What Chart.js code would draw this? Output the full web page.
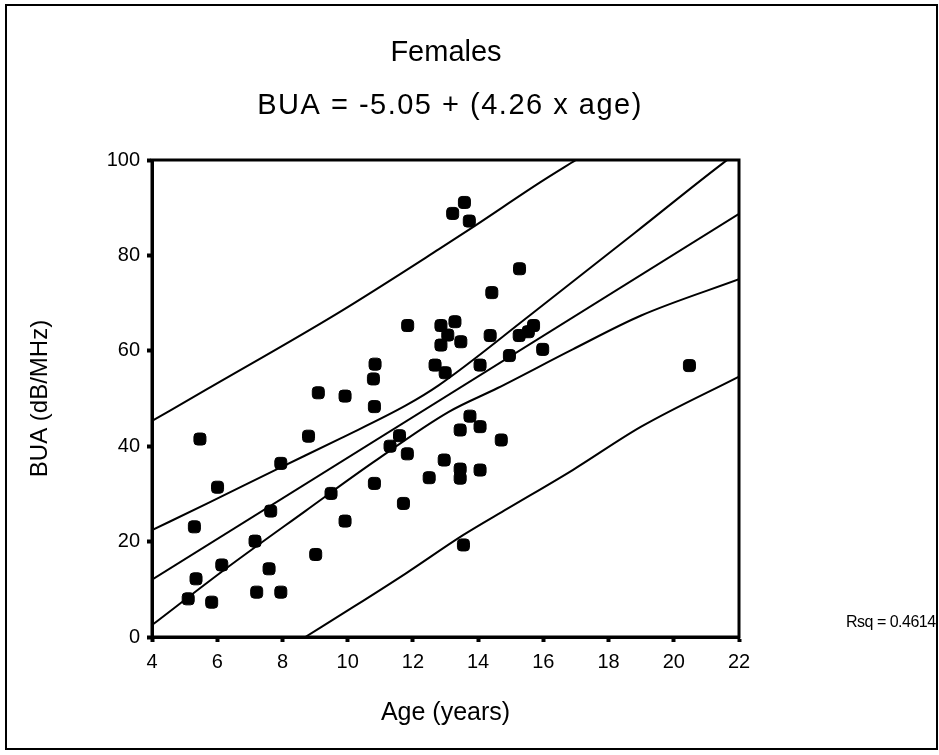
<!DOCTYPE html>
<html>
<head>
<meta charset="utf-8">
<script src="https://cdn.jsdelivr.net/npm/chart.js@4.4.1/dist/chart.umd.min.js"></script>
<style>
  body { margin: 0; background: #fff; }
  canvas { display: block; }
</style>
</head>
<body>
<canvas id="chart" width="939" height="755"></canvas>
<script>
// ===== Data =====
const ageValues = [
  5.11, 5.30, 5.35, 5.47, 5.83, 6.01, 6.14, 7.16, 7.21, 7.59,
  7.64, 7.95, 7.95, 8.80, 9.02, 9.10, 9.49, 9.92, 9.92, 10.79,
  10.84, 10.82, 10.82, 11.30, 11.59, 11.71, 11.83, 11.84, 12.50, 12.68,
  12.86, 12.86, 12.96, 12.99, 13.07, 13.22, 13.29, 13.45, 13.45, 13.45,
  13.47, 13.55, 13.58, 13.73, 13.75, 14.06, 14.06, 14.06, 14.37, 14.42,
  14.71, 14.96, 15.26, 15.27, 15.54, 15.70, 15.98, 20.48
];
const buaValues = [
  8.0, 23.1, 12.2, 41.5, 7.3, 31.4, 15.1, 20.1, 9.4, 14.3,
  26.4, 9.4, 36.4, 42.1, 17.3, 51.2, 30.1, 50.5, 24.3, 54.1,
  57.2, 48.3, 32.2, 40.0, 42.2, 28.0, 38.4, 65.3, 33.4, 57.0,
  65.3, 61.2, 37.1, 55.4, 63.3, 88.8, 66.1, 43.4, 35.2, 33.3,
  61.9, 19.3, 91.1, 87.2, 46.3, 44.1, 35.0, 57.0, 63.2, 72.2,
  41.3, 59.0, 63.2, 77.2, 64.0, 65.3, 60.3, 56.9
];

const fitAge = [4, 22];
const fitBua = [12.0, 88.7];

const upperCiAge = [4, 5.7, 7.9, 9.8, 11.8, 12.8, 15.6, 18.8, 21.5, 22];
const upperCiBua = [22.4, 28.0, 35.4, 41.7, 48.6, 52.8, 67.5, 84.7, 99.3, 101.8];
const lowerCiAge = [4, 6.2, 8.7, 10.8, 13.1, 14.6, 16.9, 19.0, 22];
const lowerCiBua = [2.5, 14.0, 26.4, 36.7, 47.2, 52.2, 60.3, 67.4, 75.0];

const upperPiAge = [4, 5.7, 9.7, 12.8, 13.9, 15.9, 17.0];
const upperPiBua = [45.3, 52.0, 67.9, 81.3, 86.2, 95.3, 100.0];
const lowerPiAge = [8.7, 10.2, 11.8, 13.55, 14.9, 16.9, 19.0, 22];
const lowerPiBua = [0.0, 6.4, 13.4, 21.4, 26.9, 35.0, 44.1, 54.6];

const xTicks = [4, 6, 8, 10, 12, 14, 16, 18, 20, 22];
const yTicks = [0, 20, 40, 60, 80, 100];

const titleText = "Females";
const equationText = "BUA = -5.05 + (4.26 x age)";
const rsqText = "Rsq = 0.4614";

// ===== Helpers =====
const toPoints = (xs, ys) => xs.map((x, i) => ({ x: x, y: ys[i] }));

function bandLine(xs, ys) {
  return {
    data: toPoints(xs, ys),
    showLine: true,
    borderColor: "#000",
    borderWidth: 2,
    pointRadius: 0,
    cubicInterpolationMode: "monotone",
    order: 2,
  };
}

// frame, titles and Rsq label
const decorations = {
  id: "decorations",
  afterDraw(chart) {
    const { ctx, chartArea: a } = chart;
    ctx.save();
    ctx.strokeStyle = "#000";
    ctx.lineWidth = 2;
    ctx.strokeRect(6, 5, 931, 744);
    ctx.lineWidth = 3;
    ctx.strokeRect(a.left, a.top, a.right - a.left, a.bottom - a.top);

    ctx.fillStyle = "#000";
    ctx.textAlign = "center";
    ctx.textBaseline = "middle";
    ctx.font = "29px 'Liberation Sans', Arial, sans-serif";
    ctx.fillText(titleText, 446, 53);
    ctx.letterSpacing = "1.5px";
    ctx.fillText(equationText, 450, 106);

    ctx.letterSpacing = "-0.5px";
    ctx.textAlign = "left";
    ctx.font = "16px 'Liberation Sans', Arial, sans-serif";
    ctx.fillText(rsqText, 846, 623);
    ctx.restore();
  },
};

// ===== Chart =====
new Chart(document.getElementById("chart"), {
  type: "scatter",
  data: {
    datasets: [
      {
        data: toPoints(ageValues, buaValues),
        backgroundColor: "#000",
        borderColor: "#000",
        pointStyle: "rectRounded",
        pointRadius: 7,
        order: 1,
      },
      Object.assign(bandLine(fitAge, fitBua), { cubicInterpolationMode: "default" }),
      bandLine(upperCiAge, upperCiBua),
      bandLine(lowerCiAge, lowerCiBua),
      bandLine(upperPiAge, upperPiBua),
      bandLine(lowerPiAge, lowerPiBua),
    ],
  },
  options: {
    responsive: false,
    animation: false,
    layout: { padding: { top: 160, right: 200, left: 0, bottom: 0 } },
    plugins: { legend: { display: false }, tooltip: { enabled: false } },
    scales: {
      x: {
        type: "linear",
        min: 4,
        max: 22,
        afterFit: (scale) => { scale.height = 118; },
        afterBuildTicks: (scale) => { scale.ticks = xTicks.map((v) => ({ value: v })); },
        grid: { drawOnChartArea: false, color: "#000", tickLength: 5, tickWidth: 4 },
        border: { display: true, color: "#000", width: 3 },
        ticks: {
          color: "#000",
          padding: 8,
          maxRotation: 0,
          font: { family: "'Liberation Sans', Arial, sans-serif", size: 20 },
        },
        title: {
          display: true,
          text: "Age (years)",
          color: "#000",
          font: { family: "'Liberation Sans', Arial, sans-serif", size: 25 },
          padding: { bottom: 27 },
        },
      },
      y: {
        type: "linear",
        min: 0,
        max: 100,
        afterFit: (scale) => { scale.width = 152; },
        afterBuildTicks: (scale) => { scale.ticks = yTicks.map((v) => ({ value: v })); },
        grid: { drawOnChartArea: false, color: "#000", tickLength: 5, tickWidth: 4 },
        border: { display: true, color: "#000", width: 3 },
        ticks: {
          color: "#000",
          padding: 7,
          font: { family: "'Liberation Sans', Arial, sans-serif", size: 20 },
        },
        title: {
          display: true,
          text: "BUA (dB/MHz)",
          color: "#000",
          font: { family: "'Liberation Sans', Arial, sans-serif", size: 24 },
          padding: { top: 26 },
        },
      },
    },
  },
  plugins: [decorations],
});
</script>
</body>
</html>
